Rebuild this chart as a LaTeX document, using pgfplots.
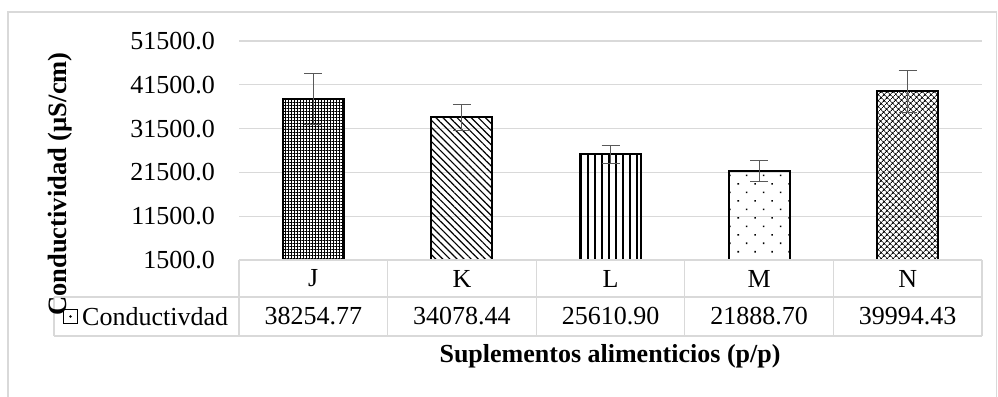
\documentclass[border=0pt]{standalone}
\usepackage{pgfplots}
\pgfplotsset{compat=1.18}
\usepackage{fontspec}
\setmainfont{Liberation Serif}
\usetikzlibrary{patterns.meta}
\definecolor{gridc}{HTML}{D9D9D9}
\definecolor{errc}{HTML}{595959}
\begin{document}
\begin{tikzpicture}[x=1pt,y=1pt,font=\fontsize{26}{30}\selectfont]
\path[use as bounding box] (0,0) rectangle (998,396);
\draw[gridc, line width=1.6pt] (8,-10) rectangle (996.5,384);
\pgfplotsset{
  mybar/.style={ybar, bar width=61pt, bar shift=0pt, draw=black, line width=2pt,
    /pgfplots/error bars/y dir=both, /pgfplots/error bars/y explicit,
    /pgfplots/error bars/error bar style={errc, line width=1pt},
    /pgfplots/error bars/error mark options={errc, rotate=90, mark size=9pt, line width=1pt}}
}
\begin{axis}[
  at={(239pt,136pt)}, anchor=south west,
  scale only axis, width=743pt, height=219pt,
  xmin=-0.5, xmax=4.5, ymin=1500, ymax=51500,
  ytick={1500,11500,21500,31500,41500,51500},
  scaled y ticks=false,
  xtick=\empty,
  axis line style={draw=none},
  ymajorgrids, grid style={gridc, line width=1.2pt},
  major tick length=0pt,
  yticklabel shift=24pt,
  yticklabel style={inner sep=0pt, anchor=east, font=\fontsize{26}{30}\selectfont},
  /pgf/number format/fixed, /pgf/number format/fixed zerofill,
  /pgf/number format/precision=1, /pgf/number format/1000 sep={},
  /pgf/number format/assume math mode=true,
]
\addplot[mybar, pattern={Hatch[angle=0,distance=3pt,line width=0.9pt]}] coordinates {(0,38254.77) +- (0,5900)};
\addplot[mybar, pattern={Lines[angle=-45,distance=5pt,line width=1.2pt]}] coordinates {(1,34078.44) +- (0,3000)};
\addplot[mybar, pattern={Lines[angle=90,distance=7pt,line width=1.8pt]}] coordinates {(2,25610.90) +- (0,2100)};
\addplot[mybar, pattern={Dots[angle=45,distance=12pt,radius=1.1pt]}] coordinates {(3,21888.70) +- (0,2400)};
\addplot[mybar, pattern={Hatch[angle=45,distance=4pt,line width=0.9pt]}] coordinates {(4,39994.43) +- (0,4800)};
\end{axis}
% data table
\draw[gridc, line width=1.2pt] (239,136) -- (982,136);
\draw[gridc, line width=1.2pt] (54,99) -- (982,99);
\draw[gridc, line width=1.2pt] (54,60) -- (982,60);
\draw[gridc, line width=1.2pt] (54,99) -- (54,60);
\foreach \x in {239,387.6,536.2,684.8,833.4,982} {
  \draw[gridc, line width=1.2pt] (\x,136) -- (\x,60);
}
\foreach \lab/\val [count=\i from 0] in {J/38254.77,K/34078.44,L/25610.90,M/21888.70,N/39994.43} {
  \node at ({313.3+148.6*\i},117.5) {\lab};
  \node at ({313.3+148.6*\i},79.5) {\val};
}
\draw[black, line width=1.3pt] (63.5,72.5) rectangle (77.5,86.5);
\fill[black] (70.5,79.5) circle (1.3pt);
\node[anchor=west, inner sep=0pt] at (82,79.5) {Conductivdad};
\node[rotate=90, font=\fontsize{26.5}{30}\selectfont\bfseries] at (60,212) {Conductividad (µS/cm)};
\node[font=\fontsize{26}{30}\selectfont\bfseries] at (610,40) {Suplementos alimenticios (p/p)};
\end{tikzpicture}
\end{document}
